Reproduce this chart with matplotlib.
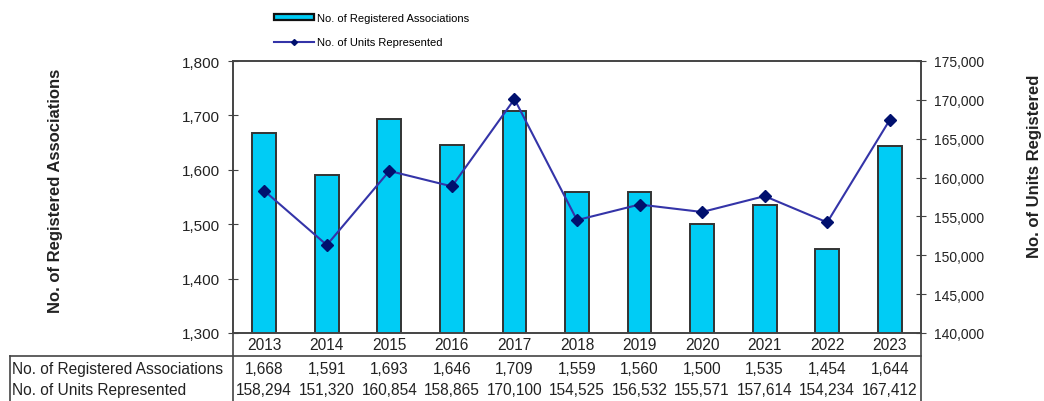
import numpy as np
import matplotlib.pyplot as plt
from matplotlib.lines import Line2D

plt.rcParams['font.family'] = ['Liberation Sans', 'DejaVu Sans']

years = ['2013', '2014', '2015', '2016', '2017', '2018', '2019', '2020', '2021', '2022', '2023']
associations = [1668, 1591, 1693, 1646, 1709, 1559, 1560, 1500, 1535, 1454, 1644]
units = [158294, 151320, 160854, 158865, 170100, 154525, 156532, 155571, 157614, 154234, 167412]

bar_color = '#00CCF5'
line_color = '#3434A8'
txt = '#222222'
spine = '#444444'

fig = plt.figure(figsize=(10.44, 4.02), dpi=100)
ax = fig.add_axes([233/1044, 1 - 334/402, 688/1044, 272/402])
ax2 = ax.twinx()

x = np.arange(len(years))
ax.bar(x, associations, width=0.38, color=bar_color, edgecolor='#333333', linewidth=1.4, zorder=2)
ax.set_ylim(1300, 1800)
ax.set_xlim(-0.5, len(years) - 0.5)
ax.set_yticks(np.arange(1300, 1801, 100))
ax.set_yticklabels([f'{v:,}' for v in range(1300, 1801, 100)], fontsize=11, color=txt)
ax.set_xticks(x)
ax.set_xticklabels(years, fontsize=11.2, color=txt)
ax.tick_params(axis='x', length=0, pad=3)
ax.tick_params(axis='y', direction='inout', length=7, color=spine, pad=6)

ax2.plot(x, units, color=line_color, linewidth=1.5, marker='D', markersize=6.5,
         markerfacecolor='#00106E', markeredgecolor='#00106E', zorder=3)
ax2.set_ylim(140000, 175000)
ax2.set_yticks(np.arange(140000, 175001, 5000))
ax2.set_yticklabels([f'{v:,}' for v in range(140000, 175001, 5000)], fontsize=10, color=txt)
ax2.tick_params(axis='y', direction='inout', length=7, color=spine, pad=6)

for a in (ax, ax2):
    for s in a.spines.values():
        s.set_color(spine)
        s.set_linewidth(1.2)

fig.text(56/1044, 1 - 191/402, 'No. of Registered Associations', rotation=90, fontsize=12,
         fontweight='bold', color=txt, ha='center', va='center')
fig.text(1035/1044, 1 - 166/402, 'No. of Units Registered', rotation=90, fontsize=12,
         fontweight='bold', color=txt, ha='center', va='center')

# data table under the chart
tr = ax.get_xaxis_transform()
x_left = -0.5 - (233 - 10) / 688 * 11
y_sep = -(357 - 334) / 272
y_bot = -(403 - 334) / 272
grid = dict(color=spine, linewidth=1.2, clip_on=False, transform=tr)
ax.add_line(Line2D([x_left, 10.5], [y_sep, y_sep], **grid))
ax.add_line(Line2D([x_left, x_left], [y_sep, y_bot], **grid))
ax.add_line(Line2D([-0.5, -0.5], [0, y_bot], **grid))
ax.add_line(Line2D([10.5, 10.5], [0, y_bot], **grid))

row1 = -(370 - 334) / 272
row2 = -(391 - 334) / 272
ax.text(x_left + 0.03, row1, 'No. of Registered Associations', transform=tr, fontsize=11.2,
        color=txt, ha='left', va='center')
ax.text(x_left + 0.03, row2, 'No. of Units Represented', transform=tr, fontsize=11.2,
        color=txt, ha='left', va='center')
for i in range(len(years)):
    ax.text(x[i], row1, f'{associations[i]:,}', transform=tr, fontsize=11.2, color=txt,
            ha='center', va='center')
    ax.text(x[i], row2, f'{units[i]:,}', transform=tr, fontsize=11.2, color=txt,
            ha='center', va='center')

# legend
handles = [plt.Rectangle((0, 0), 1, 1, facecolor=bar_color, edgecolor='#111111', linewidth=1.6),
           Line2D([], [], color=line_color, linewidth=1.5, marker='D', markersize=3,
                  markerfacecolor='#00106E', markeredgecolor='#00106E')]
fig.legend(handles, ['No. of Registered Associations', 'No. of Units Represented'],
           loc='upper left', bbox_to_anchor=(264/1044, 1 - 4/402), frameon=False, fontsize=8,
           handlelength=3.6, handleheight=0.55, labelspacing=1.3, handletextpad=0.3)

fig.savefig('out.png', dpi=100)
